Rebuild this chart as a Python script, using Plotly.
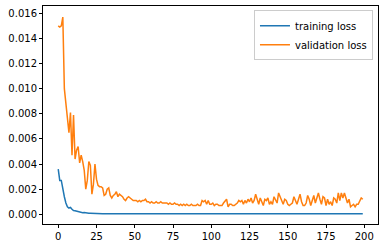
import plotly.graph_objects as go

epochs = list(range(200))

training_loss = [
    0.0036, 0.0027, 0.0027, 0.0019, 0.0014, 0.0009, 0.0006, 0.0005, 0.00055, 0.0004,
    0.0003, 0.00028, 0.00025, 0.0002, 0.00018, 0.00013, 0.00012, 0.00014, 0.0001, 0.00009,
    0.00008, 0.00008, 0.00007, 0.00007, 0.00006, 0.00006, 0.00006, 0.00005, 0.00005, 0.00005,
    0.00005, 0.00005, 0.00005, 0.00005, 0.00005, 0.00005, 0.00005, 0.00005, 0.00005, 0.00005,
    0.00005, 0.00005, 0.00005, 0.00005, 0.00005, 0.00005, 0.00005, 0.00005, 0.00005, 0.00005,
    0.00005, 0.00005, 0.00005, 0.00005, 0.00005, 0.00005, 0.00005, 0.00005, 0.00005, 0.00005,
    0.00005, 0.00005, 0.00005, 0.00005, 0.00005, 0.00005, 0.00005, 0.00005, 0.00005, 0.00005,
    0.00005, 0.00005, 0.00005, 0.00005, 0.00005, 0.00005, 0.00005, 0.00005, 0.00005, 0.00005,
    0.00005, 0.00005, 0.00005, 0.00005, 0.00005, 0.00005, 0.00005, 0.00005, 0.00005, 0.00005,
    0.00005, 0.00005, 0.00005, 0.00005, 0.00005, 0.00005, 0.00005, 0.00005, 0.00005, 0.00005,
    0.00004, 0.00004, 0.00004, 0.00004, 0.00004, 0.00004, 0.00004, 0.00004, 0.00004, 0.00004,
    0.00004, 0.00004, 0.00004, 0.00004, 0.00004, 0.00004, 0.00004, 0.00004, 0.00004, 0.00004,
    0.00004, 0.00004, 0.00004, 0.00004, 0.00004, 0.00004, 0.00004, 0.00004, 0.00004, 0.00004,
    0.00004, 0.00004, 0.00004, 0.00004, 0.00004, 0.00004, 0.00004, 0.00004, 0.00004, 0.00004,
    0.00004, 0.00004, 0.00004, 0.00004, 0.00004, 0.00004, 0.00004, 0.00004, 0.00004, 0.00004,
    0.00004, 0.00004, 0.00004, 0.00004, 0.00004, 0.00004, 0.00004, 0.00004, 0.00004, 0.00004,
    0.00004, 0.00004, 0.00004, 0.00004, 0.00004, 0.00004, 0.00004, 0.00004, 0.00004, 0.00004,
    0.00004, 0.00004, 0.00004, 0.00004, 0.00004, 0.00004, 0.00004, 0.00004, 0.00004, 0.00004,
    0.00004, 0.00004, 0.00004, 0.00004, 0.00004, 0.00004, 0.00004, 0.00004, 0.00004, 0.00004,
    0.00004, 0.00004, 0.00004, 0.00004, 0.00004, 0.00004, 0.00004, 0.00004, 0.00004, 0.00004,
]

validation_loss = [
    0.0150, 0.0149, 0.0150, 0.0157, 0.0100, 0.0089, 0.0077, 0.0065, 0.0081, 0.0047,
    0.0079, 0.0044, 0.0051, 0.0054, 0.0041, 0.0047, 0.0042, 0.0035, 0.0020, 0.0027,
    0.0042, 0.0039, 0.0016, 0.0024, 0.0040, 0.0028, 0.0023, 0.0022, 0.0022, 0.0021,
    0.0015, 0.0016, 0.0020, 0.0021, 0.0015, 0.0013, 0.0015, 0.0016, 0.0018, 0.0014,
    0.0016, 0.0015, 0.0014, 0.0012, 0.0011, 0.0013, 0.0014, 0.0013, 0.0012, 0.0011,
    0.0011, 0.0011, 0.0010, 0.0011, 0.0010, 0.0011, 0.0011, 0.0012, 0.0010, 0.0010,
    0.0009, 0.0010, 0.0009, 0.0009, 0.0010, 0.0009, 0.0009, 0.0010, 0.0009, 0.0009,
    0.0009, 0.0009, 0.0008, 0.0009, 0.0008, 0.0008, 0.0009, 0.0008, 0.0008, 0.0007,
    0.0008, 0.0007, 0.0008, 0.0007, 0.0008, 0.0007, 0.0007, 0.0008, 0.0007, 0.0007,
    0.0007, 0.0008, 0.0007, 0.0007, 0.0011, 0.0010, 0.0011, 0.0008, 0.0011, 0.0008,
    0.0008, 0.0009, 0.0007, 0.0008, 0.0008, 0.0007, 0.0007, 0.0007, 0.0009, 0.0011,
    0.0012, 0.0006, 0.0008, 0.0008, 0.0007, 0.0007, 0.0008, 0.0009, 0.0011, 0.0010,
    0.0011, 0.0008, 0.0011, 0.0009, 0.0012, 0.0010, 0.0013, 0.0009, 0.0011, 0.0016,
    0.0012, 0.0008, 0.0013, 0.0010, 0.0007, 0.0012, 0.0011, 0.0013, 0.0008, 0.0010,
    0.0008, 0.0014, 0.0012, 0.0009, 0.0017, 0.0014, 0.0010, 0.0008, 0.0012, 0.0011,
    0.0008, 0.0007, 0.0008, 0.0009, 0.0014, 0.0011, 0.0008, 0.0012, 0.0016, 0.0010,
    0.0007, 0.0007, 0.0009, 0.0015, 0.0012, 0.0007, 0.0011, 0.0015, 0.0009, 0.0013,
    0.0017, 0.0012, 0.0008, 0.0014, 0.0013, 0.0007, 0.0012, 0.0008, 0.0010, 0.0007,
    0.0013, 0.0012, 0.0009, 0.0017, 0.0011, 0.0017, 0.0013, 0.0017, 0.0012, 0.0009,
    0.0012, 0.0006, 0.0007, 0.0008, 0.0006, 0.0008, 0.0008, 0.0010, 0.0013, 0.0012,
]

x_ticks = [0, 25, 50, 75, 100, 125, 150, 175, 200]
y_ticks = [0.000, 0.002, 0.004, 0.006, 0.008, 0.010, 0.012, 0.014, 0.016]

fig = go.Figure()
fig.add_trace(go.Scatter(x=epochs, y=training_loss, mode="lines", name="training loss",
                         line=dict(color="#1f77b4", width=1.5)))
fig.add_trace(go.Scatter(x=epochs, y=validation_loss, mode="lines", name="validation loss",
                         line=dict(color="#ff7f0e", width=1.5)))

axis_common = dict(showline=True, linecolor="black", linewidth=1, mirror=True,
                   ticks="outside", ticklen=3, tickwidth=1, tickcolor="black",
                   showgrid=False, zeroline=False,
                   tickfont=dict(family="DejaVu Sans", size=10, color="black"))

fig.update_layout(
    width=384, height=248,
    margin=dict(l=43, r=6, t=6, b=24),
    plot_bgcolor="white", paper_bgcolor="white",
    xaxis=dict(range=[-9.95, 208.95], tickvals=x_ticks, **axis_common),
    yaxis=dict(range=[-0.00077, 0.01658], tickvals=y_ticks, tickformat=".3f", **axis_common),
    legend=dict(x=0.985, y=0.98, xanchor="right", yanchor="top",
                bgcolor="rgba(255,255,255,0.8)", bordercolor="#cccccc", borderwidth=1,
                font=dict(family="DejaVu Sans", size=10, color="black"),
                itemwidth=30, tracegroupgap=0),
    showlegend=True,
)

fig.write_html("out.html")
